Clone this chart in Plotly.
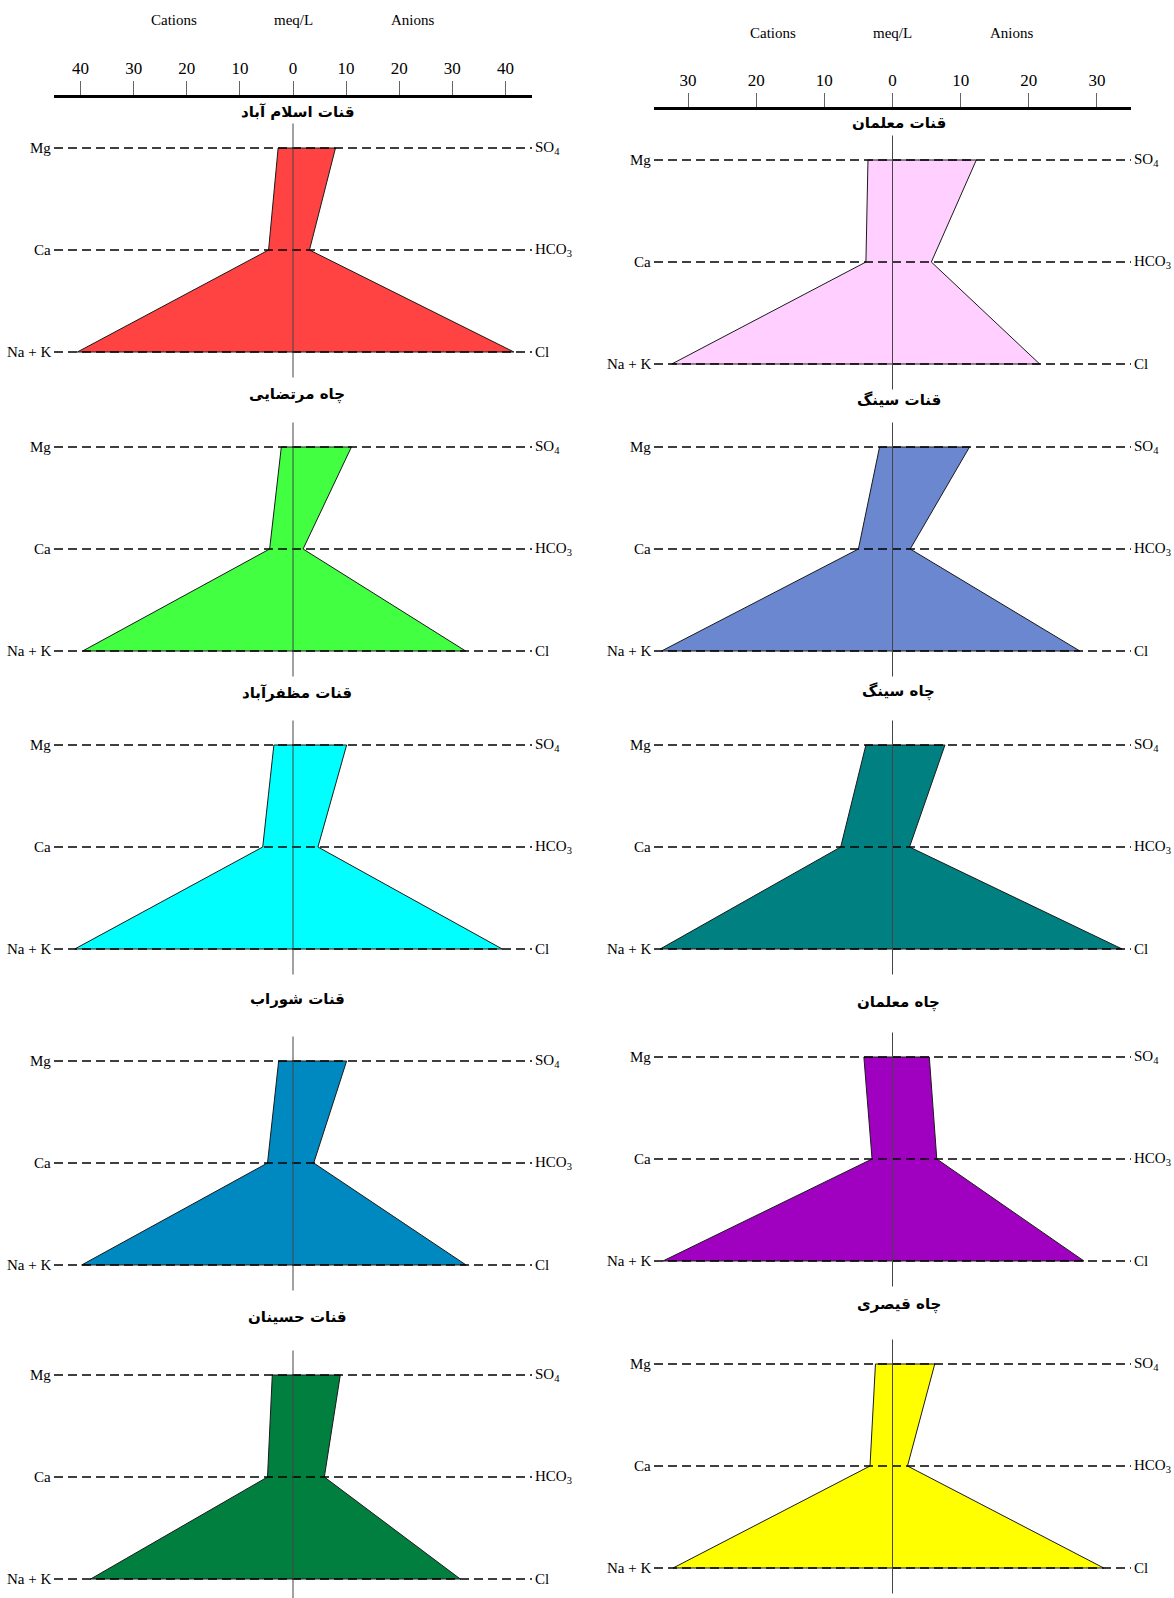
import plotly.graph_objects as go

W, H = 1174, 1598

# ---- data (meq/L) -------------------------------------------------------
sample_names = [
    "قنات اسلام آباد", "چاه مرتضایی", "قنات مظفرآباد", "قنات شوراب", "قنات حسینان",
    "قنات معلمان", "قنات سینگ", "چاه سینگ", "چاه معلمان", "چاه قیصری",
]
mg = [2.8, 2.2, 3.6, 2.7, 3.9, 3.6, 1.9, 3.9, 4.2, 2.5]
ca = [4.6, 4.4, 5.7, 4.8, 4.8, 3.9, 5.0, 7.6, 3.0, 3.3]
na_k = [40.6, 39.6, 41.1, 39.8, 38.1, 32.4, 33.9, 34.1, 33.7, 32.2]
so4 = [8.0, 11.0, 10.1, 10.1, 8.9, 12.3, 11.3, 7.7, 5.4, 6.2]
hco3 = [3.1, 1.9, 4.7, 3.9, 5.9, 5.7, 2.6, 2.5, 6.5, 2.2]
cl = [41.6, 32.5, 39.4, 32.6, 31.5, 21.6, 27.5, 33.7, 28.1, 31.0]

cation_labels = ["Mg", "Ca", "Na + K"]
anion_labels = ["SO<sub>4</sub>", "HCO<sub>3</sub>", "Cl"]
fill_colors = ["#FF4242", "#42FF42", "#00FFFF", "#0088C0", "#007F3E",
               "#FFD0FF", "#6B87D0", "#008080", "#A000C0", "#FFFF00"]

# axis scale of each column (left: +/-45, right: +/-35)
col_limit = [45, 35]
tick_vals = [[-40, -30, -20, -10, 0, 10, 20, 30, 40], [-30, -20, -10, 0, 10, 20, 30]]

# ---- layout geometry (pixels) --------------------------------------------
col_x = [(54, 532), (654, 1131)]
row_gap = 102
mg_row_px = [148, 447, 745, 1061, 1375, 160, 447, 745, 1057, 1364]
title_px = [112, 395, 693, 999, 1317, 123, 400, 691, 1002, 1304]
axis_line_px = [98, 110]
tick_label_font = 17
header_px = [20, 33]

SERIF = "Liberation Serif"
ARABIC = "DejaVu Sans"


def py(px):
    return 1 - px / H


def sfx(n):
    return "" if n == 1 else str(n)


fig = go.Figure()
layout = dict(
    width=W, height=H, margin=dict(l=0, r=0, t=0, b=0),
    paper_bgcolor="white", plot_bgcolor="rgba(0,0,0,0)",
    showlegend=False, font=dict(family=SERIF, color="black", size=15),
)
annotations = []

for k in range(10):
    col = 0 if k < 5 else 1
    lim = col_limit[col]
    n = k + 1
    xa, ya = "x" + sfx(n), "y" + sfx(n)
    top_px = mg_row_px[k] - 0.3 * row_gap
    na_px = mg_row_px[k] + 2 * row_gap
    bot_px = min(na_px + 0.3 * row_gap, H)
    y_lo = 2 + (bot_px - na_px) / row_gap
    y_hi = -(mg_row_px[k] - top_px) / row_gap

    layout["xaxis" + sfx(n)] = dict(domain=[col_x[col][0] / W, col_x[col][1] / W],
                                    range=[-lim, lim], visible=False, anchor=ya)
    layout["yaxis" + sfx(n)] = dict(domain=[py(bot_px), py(top_px)],
                                    range=[y_lo, y_hi], visible=False, anchor=xa)

    # Stiff polygon: cations to the left, anions to the right
    px_ = [-mg[k], so4[k], hco3[k], cl[k], -na_k[k], -ca[k], -mg[k]]
    py_ = [0, 0, 1, 2, 2, 1, 0]
    fig.add_trace(go.Scatter(x=px_, y=py_, mode="lines", fill="toself",
                             fillcolor=fill_colors[k],
                             line=dict(color="#1a1a1a", width=1),
                             xaxis=xa, yaxis=ya, hoverinfo="skip"))
    # dashed ion guide lines
    for r in range(3):
        fig.add_trace(go.Scatter(x=[-lim, lim], y=[r, r], mode="lines",
                                 line=dict(color="black", width=1.3, dash="9px,5px"),
                                 xaxis=xa, yaxis=ya, hoverinfo="skip"))
    # zero line
    fig.add_trace(go.Scatter(x=[0, 0], y=[-0.24, 2.25], mode="lines",
                             line=dict(color="#444444", width=1),
                             xaxis=xa, yaxis=ya, hoverinfo="skip"))

    for r in range(3):
        annotations.append(dict(xref=f"{xa} domain", yref=ya, x=0, y=r,
                                text=cation_labels[r], showarrow=False,
                                xanchor="right", yanchor="middle", xshift=-1,
                                font=dict(family=SERIF, size=15)))
        annotations.append(dict(xref=f"{xa} domain", yref=ya, x=1, y=r,
                                text=anion_labels[r], showarrow=False,
                                xanchor="left", yanchor="middle", xshift=1,
                                font=dict(family=SERIF, size=15)))
    annotations.append(dict(xref=f"{xa} domain", yref="paper", x=0.5, y=py(title_px[k]),
                            text=sample_names[k], showarrow=False,
                            xanchor="center", yanchor="middle",
                            xshift=4 if col == 0 else 6,
                            font=dict(family=ARABIC, size=15, weight="bold")))

# top meq/L scale of each column
for col in range(2):
    n = 11 + col
    lim = col_limit[col]
    layout[f"xaxis{n}"] = dict(
        domain=[col_x[col][0] / W, col_x[col][1] / W], range=[-lim, lim],
        anchor=f"y{n}", side="top", showline=True, linecolor="black", linewidth=3,
        ticks="outside", ticklen=14, tickwidth=1, tickcolor="#666666",
        tickvals=tick_vals[col], ticktext=[str(abs(v)) for v in tick_vals[col]],
        tickfont=dict(family=SERIF, size=tick_label_font), showgrid=False,
        zeroline=False, fixedrange=True,
    )
    layout[f"yaxis{n}"] = dict(domain=[py(axis_line_px[col] + 2), py(axis_line_px[col])],
                               range=[0, 1], visible=False, anchor=f"x{n}")
    fig.add_trace(go.Scatter(x=[0], y=[0.5], mode="markers", marker=dict(opacity=0),
                             xaxis=f"x{n}", yaxis=f"y{n}", hoverinfo="skip"))
    for frac, txt in [(0.25, "Cations"), (0.5, "meq/L"), (0.75, "Anions")]:
        annotations.append(dict(xref=f"x{n} domain", yref="paper", x=frac,
                                y=py(header_px[col]), text=txt, showarrow=False,
                                xanchor="center", yanchor="middle",
                                font=dict(family=SERIF, size=15)))

layout["annotations"] = annotations
fig.update_layout(**layout)
fig.write_html("out.html")
